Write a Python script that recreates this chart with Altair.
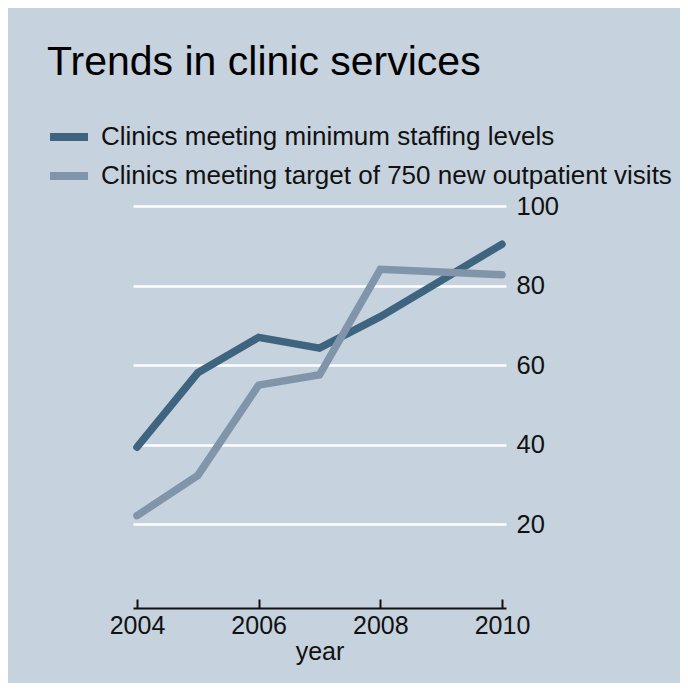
import altair as alt
import pandas as pd

years = [2004, 2005, 2006, 2007, 2008, 2009, 2010]
staffing = [39.4, 58.1, 67.0, 64.3, 72.2, 81.3, 90.4]
outpatient = [22.2, 32.3, 55.0, 57.6, 84.1, 83.4, 82.7]
series_names = [
    "Clinics meeting minimum staffing levels",
    "Clinics meeting target of 750 new outpatient visits",
]
series_colors = ["#3e6480", "#8095aa"]
x_ticks = [2004, 2006, 2008, 2010]
y_ticks = [20, 40, 60, 80, 100]

rows = []
for y, a, b in zip(years, staffing, outpatient):
    rows.append({"year": y, "value": a, "series": series_names[0]})
    rows.append({"year": y, "value": b, "series": series_names[1]})
df = pd.DataFrame(rows)

FONT = "Liberation Sans"
W, H = 373, 398

xscale = alt.Scale(domain=[2004, 2010], padding=4, nice=False, zero=False)
yscale = alt.Scale(domain=[0, 100], nice=False)

lines = alt.Chart(df).mark_line(strokeWidth=7.5, strokeCap="round").encode(
    x=alt.X("year:Q", scale=xscale,
            axis=alt.Axis(orient="bottom", values=x_ticks, format="d", grid=False,
                          ticks=False, tickSize=0, domain=True, domainColor="#111111",
                          domainWidth=2, offset=4, labelFontSize=25, labelFont=FONT,
                          labelColor="#111111", labelPadding=5, title="year",
                          titleFont=FONT, titleFontSize=25, titleFontWeight="normal",
                          titleColor="#111111", titlePadding=1)),
    y=alt.Y("value:Q", scale=yscale,
            axis=alt.Axis(orient="right", values=y_ticks, grid=True, gridColor="white",
                          gridWidth=2.5, gridOpacity=1, domain=False, ticks=False,
                          tickSize=0, labelFontSize=25.5, labelFont=FONT,
                          labelColor="#111111", labelPadding=10, title=None)),
    color=alt.Color("series:N",
                    scale=alt.Scale(domain=series_names, range=series_colors),
                    legend=alt.Legend(orient="none", legendX=-87, legendY=-92,
                                      title=None, symbolType="stroke",
                                      symbolStrokeWidth=8, symbolSize=1444,
                                      rowPadding=-3, labelFontSize=26, labelFont=FONT,
                                      labelColor="#111111", labelOffset=9,
                                      labelLimit=0, padding=0)),
    order="year:Q",
)

ticks_layer = alt.Chart(df).mark_point(opacity=0).encode(
    x=alt.X("year:Q", scale=xscale,
            axis=alt.Axis(orient="top", offset=-(H + 4), values=x_ticks, labels=False,
                          domain=False, grid=False, ticks=True, tickSize=9,
                          tickWidth=2, tickColor="#111111", title=None)),
    y=alt.Y("value:Q", scale=yscale),
)

chart = alt.layer(lines, ticks_layer).resolve_axis(x="independent").properties(
    width=W,
    height=H,
    background="#c6d2de",
    padding={"left": 125, "right": 174, "top": 198, "bottom": 79},
    autosize=alt.AutoSizeParams(type="none"),
    title=alt.TitleParams("Trends in clinic services", anchor="start", frame="group",
                          font=FONT, fontSize=41, fontWeight="normal",
                          color="#000000", dx=-86, dy=-26),
).configure_view(stroke=None).configure_legend(rowPadding=-3)

chart.save("out.html", embed_options={"renderer": "svg", "actions": False})
